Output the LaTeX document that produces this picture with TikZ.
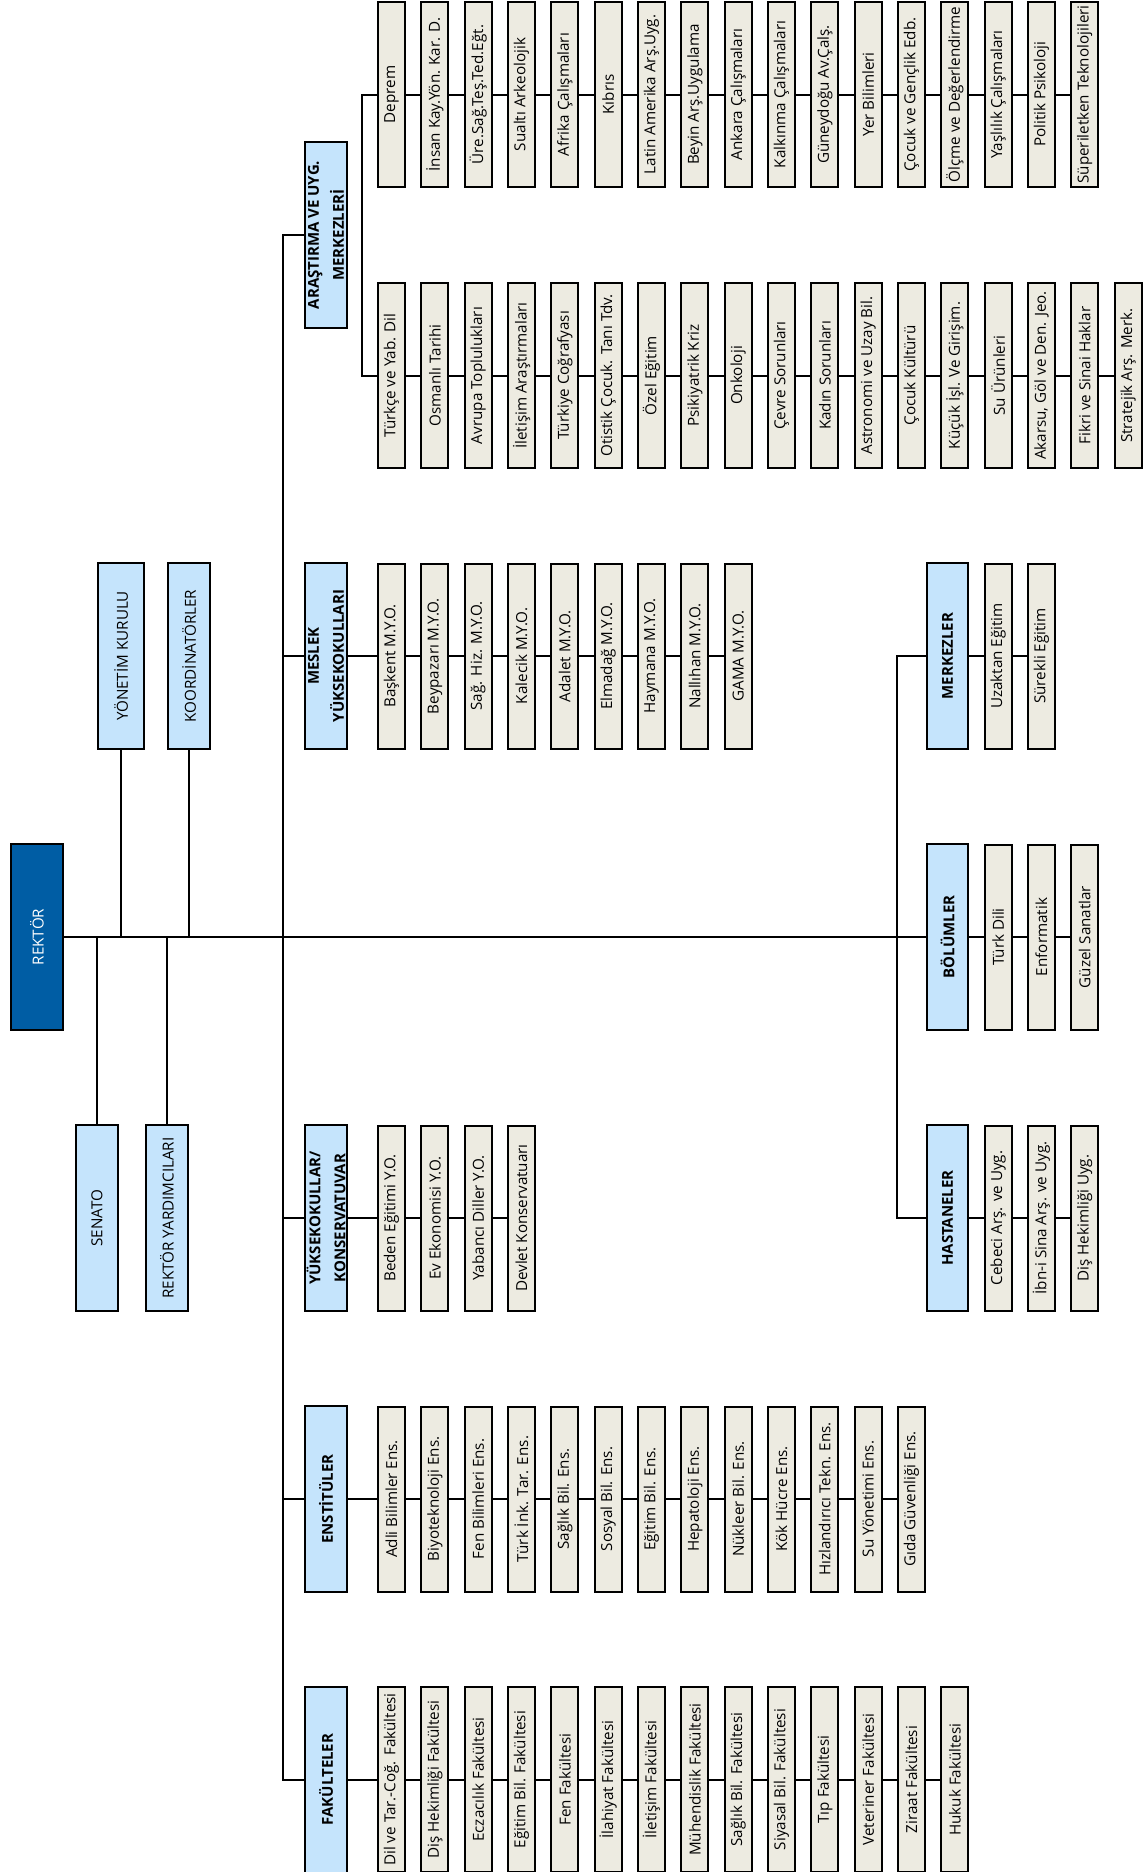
\documentclass[tikz,border=0pt]{standalone}
\usepackage{fontspec}
\setmainfont{Open Sans}
\definecolor{hdrblue}{RGB}{197,228,252}
\definecolor{itmbeige}{RGB}{237,235,225}
\definecolor{rekblue}{RGB}{0,93,164}
\begin{document}
\begin{tikzpicture}[x=1pt,y=-1pt,
  box/.style={draw=black, line width=2pt, rotate=90, inner sep=0pt, font=\fontsize{15.2}{17}\selectfont},
  itembox/.style={box, fill=itmbeige, minimum width=185pt, minimum height=27pt},
  hdrbox/.style={box, fill=hdrblue, minimum width=186pt, minimum height=42pt, align=center, font=\bfseries\fontsize{15}{25}\selectfont},
  mgmtbox/.style={box, fill=hdrblue, minimum width=186pt, minimum height=42pt},
  conn/.style={line width=2pt}]
\useasboundingbox (0,0) rectangle (1145,1872);

% ---------- top management ----------
\node[box, fill=rekblue, text=white, minimum width=186pt, minimum height=52pt] (rektor) at (37,937) {REKTÖR};
\node[mgmtbox, minimum height=46pt] (yonetim) at (121,656) {YÖNETİM KURULU};
\node[mgmtbox] (koord) at (189,656) {KOORDİNATÖRLER};
\node[mgmtbox] (senato) at (97,1218) {SENATO};
\node[mgmtbox] (ryard) at (167,1218) {REKTÖR YARDIMCILARI};

% ---------- headers ----------
\node[hdrbox] (arastirma) at (326,235) {ARAŞTIRMA VE UYG.\\MERKEZLERİ};
\node[hdrbox] (meslek) at (326,656) {MESLEK\\YÜKSEKOKULLARI};
\node[hdrbox] (yuksek) at (326,1218) {YÜKSEKOKULLAR/\\KONSERVATUVAR};
\node[hdrbox] (enstitu) at (326,1499) {ENSTİTÜLER};
\node[hdrbox] (fakulte) at (326,1779.5) {FAKÜLTELER};
\node[hdrbox, minimum height=41pt] (merkezler) at (947.5,656) {MERKEZLER};
\node[hdrbox, minimum height=41pt] (bolumler) at (947.5,937) {BÖLÜMLER};
\node[hdrbox, minimum height=41pt] (hastaneler) at (947.5,1218) {HASTANELER};

% ---------- research centres, row A ----------
\foreach \t [count=\i] in {Deprem,İnsan Kay.Yön. Kar. D.,Üre.Sağ.Teş.Ted.Eğt.,Sualtı Arkeolojik,Afrika Çalışmaları,Kıbrıs,Latin Amerika Arş.Uyg.,Beyin Arş.Uygulama,Ankara Çalışmaları,Kalkınma Çalışmaları,Güneydoğu Av.Çalş.,Yer Bilimleri,Çocuk ve Gençlik Edb.,Ölçme ve Değerlendirme,Yaşlılık Çalışmaları,Politik Psikoloji,Süperiletken Teknolojileri}
  \node[itembox] (a\i) at ({391.5+(\i-1)*43.33},94.5) {\t};

% ---------- research centres, row B ----------
\foreach \t [count=\i] in {Türkçe ve Yab. Dil,Osmanlı Tarihi,Avrupa Toplulukları,İletişim Araştırmaları,Türkiye Coğrafyası,Otistik Çocuk. Tanı Tdv.,Özel Eğitim,Psikiyatrik Kriz,Onkoloji,Çevre Sorunları,Kadın Sorunları,Astronomi ve Uzay Bil.,Çocuk Kültürü,Küçük İşl. Ve Girişim.,Su Ürünleri,{Akarsu, Göl ve Den. Jeo.},Fikri ve Sinai Haklar,Stratejik Arş. Merk.}
  \node[itembox] (b\i) at ({391.5+(\i-1)*43.33},375.5) {\t};

% ---------- vocational schools ----------
\foreach \t [count=\i] in {Başkent M.Y.O.,Beypazarı M.Y.O.,Sağ. Hiz. M.Y.O.,Kalecik M.Y.O.,Adalet M.Y.O.,Elmadağ M.Y.O.,Haymana M.Y.O.,Nallıhan M.Y.O.,GAMA M.Y.O.}
  \node[itembox] (m\i) at ({391.5+(\i-1)*43.33},656) {\t};

% ---------- schools / conservatory ----------
\foreach \t [count=\i] in {Beden Eğitimi Y.O.,Ev Ekonomisi Y.O.,Yabancı Diller Y.O.,Devlet Konservatuarı}
  \node[itembox] (y\i) at ({391.5+(\i-1)*43.33},1218) {\t};

% ---------- institutes ----------
\foreach \t [count=\i] in {Adli Bilimler Ens.,Biyoteknoloji Ens.,Fen Bilimleri Ens.,Türk İnk. Tar. Ens.,Sağlık Bil. Ens.,Sosyal Bil. Ens.,Eğitim Bil. Ens.,Hepatoloji Ens.,Nükleer Bil. Ens.,Kök Hücre Ens.,Hızlandırıcı Tekn. Ens.,Su Yönetimi Ens.,Gıda Güvenliği Ens.}
  \node[itembox] (e\i) at ({391.5+(\i-1)*43.33},1499) {\t};

% ---------- faculties ----------
\foreach \t [count=\i] in {Dil ve Tar.-Coğ. Fakültesi,Diş Hekimliği Fakültesi,Eczacılık Fakültesi,Eğitim Bil. Fakültesi,Fen Fakültesi,İlahiyat Fakültesi,İletişim Fakültesi,Mühendislik Fakültesi,Sağlık Bil. Fakültesi,Siyasal Bil. Fakültesi,Tıp Fakültesi,Veteriner Fakültesi,Ziraat Fakültesi,Hukuk Fakültesi}
  \node[itembox] (f\i) at ({391.5+(\i-1)*43.33},1779.5) {\t};

% ---------- right side ----------
\foreach \t [count=\i] in {Uzaktan Eğitim,Sürekli Eğitim}
  \node[itembox] (mk\i) at ({391.5+(\i+13)*43.33},656) {\t};
\foreach \t [count=\i] in {Türk Dili,Enformatik,Güzel Sanatlar}
  \node[itembox] (bl\i) at ({391.5+(\i+13)*43.33},937) {\t};
\foreach \t [count=\i] in {Cebeci Arş. ve Uyg.,İbn-i Sina Arş. ve Uyg.,Diş Hekimliği Uyg.}
  \node[itembox] (h\i) at ({391.5+(\i+13)*43.33},1218) {\t};

% ---------- connectors ----------
\coordinate (trunk) at (283,937);
\coordinate (rbr) at (897,937);
\coordinate (sbr) at (362,235);

\draw[conn] (rektor) -- (bolumler);
\draw[conn] (yonetim) -- (yonetim |- rektor);
\draw[conn] (koord) -- (koord |- rektor);
\draw[conn] (senato) -- (senato |- rektor);
\draw[conn] (ryard) -- (ryard |- rektor);

\draw[conn] (arastirma) -- (arastirma -| trunk) -- (fakulte -| trunk) -- (fakulte);
\draw[conn] (meslek -| trunk) -- (meslek);
\draw[conn] (yuksek -| trunk) -- (yuksek);
\draw[conn] (enstitu -| trunk) -- (enstitu);

\draw[conn] (merkezler) -- (merkezler -| rbr) -- (hastaneler -| rbr) -- (hastaneler);

\draw[conn] (a1) -- (a1 -| sbr) -- (b1 -| sbr) -- (b1);

\draw[conn] (meslek) -- (m1);
\draw[conn] (yuksek) -- (y1);
\draw[conn] (enstitu) -- (e1);
\draw[conn] (fakulte) -- (f1);
\draw[conn] (merkezler) -- (mk1);
\draw[conn] (bolumler) -- (bl1);
\draw[conn] (hastaneler) -- (h1);

\foreach \i [remember=\i as \p (initially 1)] in {2,...,17} \draw[conn] (a\p) -- (a\i);
\foreach \i [remember=\i as \p (initially 1)] in {2,...,18} \draw[conn] (b\p) -- (b\i);
\foreach \i [remember=\i as \p (initially 1)] in {2,...,9} \draw[conn] (m\p) -- (m\i);
\foreach \i [remember=\i as \p (initially 1)] in {2,...,4} \draw[conn] (y\p) -- (y\i);
\foreach \i [remember=\i as \p (initially 1)] in {2,...,13} \draw[conn] (e\p) -- (e\i);
\foreach \i [remember=\i as \p (initially 1)] in {2,...,14} \draw[conn] (f\p) -- (f\i);
\draw[conn] (mk1) -- (mk2);
\draw[conn] (bl1) -- (bl2);
\draw[conn] (bl2) -- (bl3);
\draw[conn] (h1) -- (h2);
\draw[conn] (h2) -- (h3);
\end{tikzpicture}
\end{document}
